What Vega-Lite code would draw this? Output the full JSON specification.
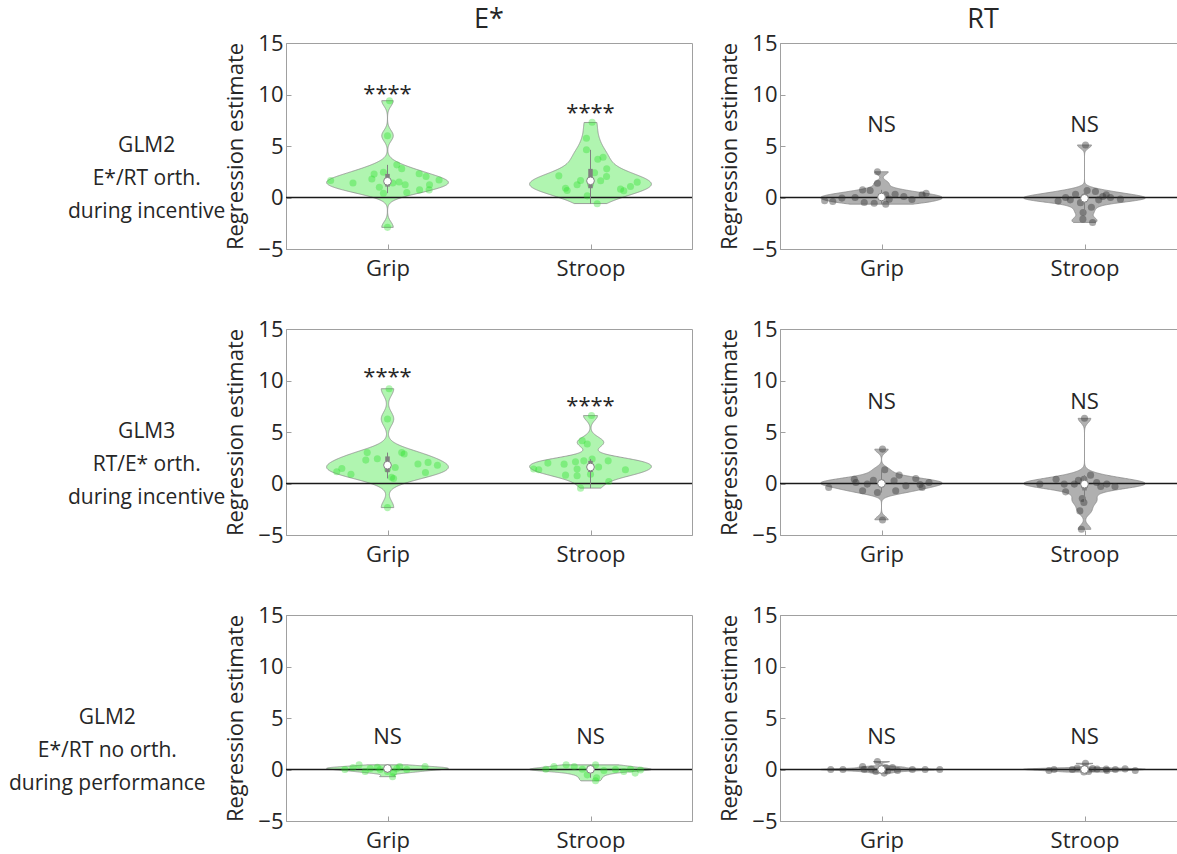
{
"$schema": "https://vega.github.io/schema/vega-lite/v6.json",
"background": "white",
"padding": {"left": 8, "top": 6, "right": 0, "bottom": 0},
"data": {"values": [
{"t":"p","g":"R1","c":"E*","k":"Grip","v":9.4,"j":0.01},
{"t":"p","g":"R1","c":"E*","k":"Grip","v":6.0,"j":0.0},
{"t":"p","g":"R1","c":"E*","k":"Grip","v":-2.9,"j":0.0},
{"t":"p","g":"R1","c":"E*","k":"Grip","v":1.65,"j":-0.28},
{"t":"p","g":"R1","c":"E*","k":"Grip","v":1.4,"j":-0.17},
{"t":"p","g":"R1","c":"E*","k":"Grip","v":2.27,"j":-0.066},
{"t":"p","g":"R1","c":"E*","k":"Grip","v":1.8,"j":-0.077},
{"t":"p","g":"R1","c":"E*","k":"Grip","v":2.45,"j":-0.02},
{"t":"p","g":"R1","c":"E*","k":"Grip","v":3.17,"j":0.046},
{"t":"p","g":"R1","c":"E*","k":"Grip","v":2.8,"j":0.07},
{"t":"p","g":"R1","c":"E*","k":"Grip","v":1.5,"j":0.057},
{"t":"p","g":"R1","c":"E*","k":"Grip","v":1.23,"j":0.087},
{"t":"p","g":"R1","c":"E*","k":"Grip","v":0.49,"j":0.095},
{"t":"p","g":"R1","c":"E*","k":"Grip","v":2.3,"j":0.156},
{"t":"p","g":"R1","c":"E*","k":"Grip","v":2.04,"j":0.19},
{"t":"p","g":"R1","c":"E*","k":"Grip","v":1.23,"j":0.207},
{"t":"p","g":"R1","c":"E*","k":"Grip","v":0.74,"j":0.205},
{"t":"p","g":"R1","c":"E*","k":"Grip","v":0.74,"j":0.158},
{"t":"p","g":"R1","c":"E*","k":"Grip","v":1.7,"j":0.254},
{"t":"p","g":"R1","c":"E*","k":"Grip","v":0.42,"j":-0.02},
{"t":"p","g":"R1","c":"E*","k":"Grip","v":1.4,"j":0.026},
{"t":"p","g":"R1","c":"E*","k":"Grip","v":1.0,"j":-0.04},
{"t":"p","g":"R1","c":"E*","k":"Stroop","v":7.3,"j":0.008},
{"t":"p","g":"R1","c":"E*","k":"Stroop","v":5.76,"j":-0.02},
{"t":"p","g":"R1","c":"E*","k":"Stroop","v":4.63,"j":-0.02},
{"t":"p","g":"R1","c":"E*","k":"Stroop","v":3.72,"j":0.036},
{"t":"p","g":"R1","c":"E*","k":"Stroop","v":3.9,"j":0.062},
{"t":"p","g":"R1","c":"E*","k":"Stroop","v":2.78,"j":0.08},
{"t":"p","g":"R1","c":"E*","k":"Stroop","v":1.62,"j":0.05},
{"t":"p","g":"R1","c":"E*","k":"Stroop","v":2.04,"j":0.079},
{"t":"p","g":"R1","c":"E*","k":"Stroop","v":2.1,"j":-0.156},
{"t":"p","g":"R1","c":"E*","k":"Stroop","v":0.9,"j":-0.123},
{"t":"p","g":"R1","c":"E*","k":"Stroop","v":0.68,"j":-0.115},
{"t":"p","g":"R1","c":"E*","k":"Stroop","v":1.23,"j":-0.066},
{"t":"p","g":"R1","c":"E*","k":"Stroop","v":1.65,"j":-0.049},
{"t":"p","g":"R1","c":"E*","k":"Stroop","v":0.16,"j":-0.016},
{"t":"p","g":"R1","c":"E*","k":"Stroop","v":-0.6,"j":0.033},
{"t":"p","g":"R1","c":"E*","k":"Stroop","v":0.81,"j":0.148},
{"t":"p","g":"R1","c":"E*","k":"Stroop","v":0.65,"j":0.164},
{"t":"p","g":"R1","c":"E*","k":"Stroop","v":1.07,"j":0.197},
{"t":"p","g":"R1","c":"E*","k":"Stroop","v":1.49,"j":0.23},
{"t":"p","g":"R1","c":"E*","k":"Stroop","v":1.3,"j":0.0},
{"t":"p","g":"R1","c":"E*","k":"Stroop","v":2.4,"j":0.02},
{"t":"p","g":"R1","c":"RT","k":"Grip","v":2.5,"j":-0.02},
{"t":"p","g":"R1","c":"RT","k":"Grip","v":1.39,"j":-0.02},
{"t":"p","g":"R1","c":"RT","k":"Grip","v":0.74,"j":-0.093},
{"t":"p","g":"R1","c":"RT","k":"Grip","v":0.68,"j":-0.056},
{"t":"p","g":"R1","c":"RT","k":"Grip","v":0.26,"j":0.021},
{"t":"p","g":"R1","c":"RT","k":"Grip","v":0.32,"j":0.067},
{"t":"p","g":"R1","c":"RT","k":"Grip","v":-0.32,"j":-0.28},
{"t":"p","g":"R1","c":"RT","k":"Grip","v":-0.39,"j":-0.24},
{"t":"p","g":"R1","c":"RT","k":"Grip","v":-0.06,"j":-0.195},
{"t":"p","g":"R1","c":"RT","k":"Grip","v":-0.48,"j":-0.085},
{"t":"p","g":"R1","c":"RT","k":"Grip","v":-0.55,"j":-0.036},
{"t":"p","g":"R1","c":"RT","k":"Grip","v":-0.65,"j":0.021},
{"t":"p","g":"R1","c":"RT","k":"Grip","v":-0.16,"j":0.038},
{"t":"p","g":"R1","c":"RT","k":"Grip","v":0.26,"j":0.2},
{"t":"p","g":"R1","c":"RT","k":"Grip","v":0.42,"j":0.22},
{"t":"p","g":"R1","c":"RT","k":"Grip","v":0.0,"j":-0.13},
{"t":"p","g":"R1","c":"RT","k":"Grip","v":0.1,"j":0.11},
{"t":"p","g":"R1","c":"RT","k":"Grip","v":-0.2,"j":0.15},
{"t":"p","g":"R1","c":"RT","k":"Grip","v":0.05,"j":0.0},
{"t":"p","g":"R1","c":"RT","k":"Stroop","v":5.1,"j":0.005},
{"t":"p","g":"R1","c":"RT","k":"Stroop","v":-1.45,"j":-0.007},
{"t":"p","g":"R1","c":"RT","k":"Stroop","v":-2.1,"j":-0.008},
{"t":"p","g":"R1","c":"RT","k":"Stroop","v":-2.42,"j":0.04},
{"t":"p","g":"R1","c":"RT","k":"Stroop","v":-0.94,"j":0.034},
{"t":"p","g":"R1","c":"RT","k":"Stroop","v":0.68,"j":0.013},
{"t":"p","g":"R1","c":"RT","k":"Stroop","v":0.32,"j":-0.044},
{"t":"p","g":"R1","c":"RT","k":"Stroop","v":0.0,"j":-0.093},
{"t":"p","g":"R1","c":"RT","k":"Stroop","v":-0.35,"j":-0.13},
{"t":"p","g":"R1","c":"RT","k":"Stroop","v":0.58,"j":0.054},
{"t":"p","g":"R1","c":"RT","k":"Stroop","v":-0.23,"j":0.07},
{"t":"p","g":"R1","c":"RT","k":"Stroop","v":0.26,"j":0.107},
{"t":"p","g":"R1","c":"RT","k":"Stroop","v":0.0,"j":0.128},
{"t":"p","g":"R1","c":"RT","k":"Stroop","v":-0.16,"j":0.177},
{"t":"p","g":"R1","c":"RT","k":"Stroop","v":-0.23,"j":-0.07},
{"t":"p","g":"R1","c":"RT","k":"Stroop","v":0.1,"j":0.09},
{"t":"p","g":"R1","c":"RT","k":"Stroop","v":-0.5,"j":-0.02},
{"t":"p","g":"R1","c":"RT","k":"Stroop","v":0.05,"j":0.0},
{"t":"p","g":"R2","c":"E*","k":"Grip","v":9.2,"j":0.008},
{"t":"p","g":"R2","c":"E*","k":"Grip","v":6.27,"j":0.0},
{"t":"p","g":"R2","c":"E*","k":"Grip","v":-2.34,"j":0.0},
{"t":"p","g":"R2","c":"E*","k":"Grip","v":1.14,"j":-0.25},
{"t":"p","g":"R2","c":"E*","k":"Grip","v":1.46,"j":-0.225},
{"t":"p","g":"R2","c":"E*","k":"Grip","v":0.9,"j":-0.18},
{"t":"p","g":"R2","c":"E*","k":"Grip","v":2.27,"j":-0.107},
{"t":"p","g":"R2","c":"E*","k":"Grip","v":3.0,"j":-0.1},
{"t":"p","g":"R2","c":"E*","k":"Grip","v":0.49,"j":0.03},
{"t":"p","g":"R2","c":"E*","k":"Grip","v":1.56,"j":0.038},
{"t":"p","g":"R2","c":"E*","k":"Grip","v":3.0,"j":0.07},
{"t":"p","g":"R2","c":"E*","k":"Grip","v":2.86,"j":0.082},
{"t":"p","g":"R2","c":"E*","k":"Grip","v":1.07,"j":0.187},
{"t":"p","g":"R2","c":"E*","k":"Grip","v":2.05,"j":0.2},
{"t":"p","g":"R2","c":"E*","k":"Grip","v":1.78,"j":0.246},
{"t":"p","g":"R2","c":"E*","k":"Grip","v":1.4,"j":0.0},
{"t":"p","g":"R2","c":"E*","k":"Grip","v":0.6,"j":0.02},
{"t":"p","g":"R2","c":"E*","k":"Grip","v":1.9,"j":0.15},
{"t":"p","g":"R2","c":"E*","k":"Grip","v":2.4,"j":-0.05},
{"t":"p","g":"R2","c":"E*","k":"Stroop","v":6.6,"j":0.005},
{"t":"p","g":"R2","c":"E*","k":"Stroop","v":4.16,"j":-0.041},
{"t":"p","g":"R2","c":"E*","k":"Stroop","v":3.83,"j":-0.016},
{"t":"p","g":"R2","c":"E*","k":"Stroop","v":2.2,"j":-0.033},
{"t":"p","g":"R2","c":"E*","k":"Stroop","v":2.1,"j":-0.074},
{"t":"p","g":"R2","c":"E*","k":"Stroop","v":1.88,"j":-0.13},
{"t":"p","g":"R2","c":"E*","k":"Stroop","v":0.81,"j":-0.123},
{"t":"p","g":"R2","c":"E*","k":"Stroop","v":1.4,"j":-0.066},
{"t":"p","g":"R2","c":"E*","k":"Stroop","v":0.75,"j":-0.066},
{"t":"p","g":"R2","c":"E*","k":"Stroop","v":-0.45,"j":-0.049},
{"t":"p","g":"R2","c":"E*","k":"Stroop","v":1.4,"j":-0.28},
{"t":"p","g":"R2","c":"E*","k":"Stroop","v":1.33,"j":-0.255},
{"t":"p","g":"R2","c":"E*","k":"Stroop","v":1.98,"j":-0.21},
{"t":"p","g":"R2","c":"E*","k":"Stroop","v":2.37,"j":0.008},
{"t":"p","g":"R2","c":"E*","k":"Stroop","v":2.2,"j":0.087},
{"t":"p","g":"R2","c":"E*","k":"Stroop","v":0.2,"j":0.09},
{"t":"p","g":"R2","c":"E*","k":"Stroop","v":1.33,"j":0.172},
{"t":"p","g":"R2","c":"E*","k":"Stroop","v":0.9,"j":0.0},
{"t":"p","g":"R2","c":"E*","k":"Stroop","v":1.6,"j":0.04},
{"t":"p","g":"R2","c":"RT","k":"Grip","v":3.34,"j":0.005},
{"t":"p","g":"R2","c":"RT","k":"Grip","v":-3.54,"j":0.005},
{"t":"p","g":"R2","c":"RT","k":"Grip","v":1.33,"j":0.016},
{"t":"p","g":"R2","c":"RT","k":"Grip","v":0.81,"j":0.087},
{"t":"p","g":"R2","c":"RT","k":"Grip","v":-0.39,"j":-0.26},
{"t":"p","g":"R2","c":"RT","k":"Grip","v":0.42,"j":-0.134},
{"t":"p","g":"R2","c":"RT","k":"Grip","v":0.1,"j":-0.126},
{"t":"p","g":"R2","c":"RT","k":"Grip","v":-0.71,"j":-0.093},
{"t":"p","g":"R2","c":"RT","k":"Grip","v":-0.06,"j":-0.07},
{"t":"p","g":"R2","c":"RT","k":"Grip","v":-0.88,"j":-0.02},
{"t":"p","g":"R2","c":"RT","k":"Grip","v":0.26,"j":0.062},
{"t":"p","g":"R2","c":"RT","k":"Grip","v":-0.71,"j":0.07},
{"t":"p","g":"R2","c":"RT","k":"Grip","v":-0.23,"j":0.12},
{"t":"p","g":"R2","c":"RT","k":"Grip","v":0.49,"j":0.169},
{"t":"p","g":"R2","c":"RT","k":"Grip","v":-0.39,"j":0.2},
{"t":"p","g":"R2","c":"RT","k":"Grip","v":0.1,"j":0.234},
{"t":"p","g":"R2","c":"RT","k":"Grip","v":0.0,"j":0.0},
{"t":"p","g":"R2","c":"RT","k":"Grip","v":-0.1,"j":0.19},
{"t":"p","g":"R2","c":"RT","k":"Grip","v":0.3,"j":-0.04},
{"t":"p","g":"R2","c":"RT","k":"Stroop","v":6.33,"j":0.0},
{"t":"p","g":"R2","c":"RT","k":"Stroop","v":-4.45,"j":-0.015},
{"t":"p","g":"R2","c":"RT","k":"Stroop","v":-2.66,"j":-0.023},
{"t":"p","g":"R2","c":"RT","k":"Stroop","v":-1.46,"j":-0.011},
{"t":"p","g":"R2","c":"RT","k":"Stroop","v":-1.85,"j":-0.003},
{"t":"p","g":"R2","c":"RT","k":"Stroop","v":0.81,"j":0.03},
{"t":"p","g":"R2","c":"RT","k":"Stroop","v":0.42,"j":-0.003},
{"t":"p","g":"R2","c":"RT","k":"Stroop","v":-0.81,"j":-0.093},
{"t":"p","g":"R2","c":"RT","k":"Stroop","v":-0.06,"j":-0.1},
{"t":"p","g":"R2","c":"RT","k":"Stroop","v":0.42,"j":-0.14},
{"t":"p","g":"R2","c":"RT","k":"Stroop","v":-0.06,"j":-0.22},
{"t":"p","g":"R2","c":"RT","k":"Stroop","v":-0.06,"j":-0.05},
{"t":"p","g":"R2","c":"RT","k":"Stroop","v":-0.29,"j":0.08},
{"t":"p","g":"R2","c":"RT","k":"Stroop","v":-0.06,"j":0.11},
{"t":"p","g":"R2","c":"RT","k":"Stroop","v":-0.29,"j":0.15},
{"t":"p","g":"R2","c":"RT","k":"Stroop","v":0.1,"j":0.06},
{"t":"p","g":"R2","c":"RT","k":"Stroop","v":-0.2,"j":0.0},
{"t":"p","g":"R2","c":"RT","k":"Stroop","v":0.3,"j":-0.03},
{"t":"p","g":"R3","c":"E*","k":"Grip","v":0.0,"j":-0.21},
{"t":"p","g":"R3","c":"E*","k":"Grip","v":0.45,"j":-0.14},
{"t":"p","g":"R3","c":"E*","k":"Grip","v":-0.2,"j":-0.11},
{"t":"p","g":"R3","c":"E*","k":"Grip","v":0.22,"j":-0.05},
{"t":"p","g":"R3","c":"E*","k":"Grip","v":0.0,"j":-0.036},
{"t":"p","g":"R3","c":"E*","k":"Grip","v":0.1,"j":0.005},
{"t":"p","g":"R3","c":"E*","k":"Grip","v":-0.7,"j":0.025},
{"t":"p","g":"R3","c":"E*","k":"Grip","v":0.1,"j":0.046},
{"t":"p","g":"R3","c":"E*","k":"Grip","v":0.29,"j":0.06},
{"t":"p","g":"R3","c":"E*","k":"Grip","v":0.29,"j":0.185},
{"t":"p","g":"R3","c":"E*","k":"Grip","v":-0.2,"j":0.0},
{"t":"p","g":"R3","c":"E*","k":"Grip","v":0.1,"j":-0.085},
{"t":"p","g":"R3","c":"E*","k":"Grip","v":0.0,"j":0.095},
{"t":"p","g":"R3","c":"E*","k":"Grip","v":-0.3,"j":0.03},
{"t":"p","g":"R3","c":"E*","k":"Grip","v":0.2,"j":-0.17},
{"t":"p","g":"R3","c":"E*","k":"Stroop","v":0.03,"j":-0.22},
{"t":"p","g":"R3","c":"E*","k":"Stroop","v":0.29,"j":-0.18},
{"t":"p","g":"R3","c":"E*","k":"Stroop","v":0.45,"j":-0.12},
{"t":"p","g":"R3","c":"E*","k":"Stroop","v":0.29,"j":-0.08},
{"t":"p","g":"R3","c":"E*","k":"Stroop","v":0.03,"j":-0.04},
{"t":"p","g":"R3","c":"E*","k":"Stroop","v":-0.52,"j":-0.016},
{"t":"p","g":"R3","c":"E*","k":"Stroop","v":-1.1,"j":0.025},
{"t":"p","g":"R3","c":"E*","k":"Stroop","v":0.45,"j":0.025},
{"t":"p","g":"R3","c":"E*","k":"Stroop","v":-0.1,"j":0.066},
{"t":"p","g":"R3","c":"E*","k":"Stroop","v":0.0,"j":0.123},
{"t":"p","g":"R3","c":"E*","k":"Stroop","v":-0.2,"j":0.164},
{"t":"p","g":"R3","c":"E*","k":"Stroop","v":-0.35,"j":0.22},
{"t":"p","g":"R3","c":"E*","k":"Stroop","v":0.03,"j":0.197},
{"t":"p","g":"R3","c":"E*","k":"Stroop","v":-0.05,"j":0.246},
{"t":"p","g":"R3","c":"E*","k":"Stroop","v":-0.8,"j":0.03},
{"t":"p","g":"R3","c":"E*","k":"Stroop","v":0.1,"j":0.0},
{"t":"p","g":"R3","c":"RT","k":"Grip","v":0.0,"j":-0.25},
{"t":"p","g":"R3","c":"RT","k":"Grip","v":0.0,"j":-0.19},
{"t":"p","g":"R3","c":"RT","k":"Grip","v":0.29,"j":-0.093},
{"t":"p","g":"R3","c":"RT","k":"Grip","v":0.0,"j":-0.085},
{"t":"p","g":"R3","c":"RT","k":"Grip","v":0.77,"j":-0.02},
{"t":"p","g":"R3","c":"RT","k":"Grip","v":-0.2,"j":-0.028},
{"t":"p","g":"R3","c":"RT","k":"Grip","v":-0.35,"j":0.013},
{"t":"p","g":"R3","c":"RT","k":"Grip","v":0.2,"j":0.054},
{"t":"p","g":"R3","c":"RT","k":"Grip","v":-0.1,"j":0.079},
{"t":"p","g":"R3","c":"RT","k":"Grip","v":0.0,"j":0.152},
{"t":"p","g":"R3","c":"RT","k":"Grip","v":0.0,"j":0.215},
{"t":"p","g":"R3","c":"RT","k":"Grip","v":0.0,"j":0.287},
{"t":"p","g":"R3","c":"RT","k":"Grip","v":0.05,"j":-0.05},
{"t":"p","g":"R3","c":"RT","k":"Grip","v":0.2,"j":0.021},
{"t":"p","g":"R3","c":"RT","k":"Grip","v":-0.15,"j":0.03},
{"t":"p","g":"R3","c":"RT","k":"Stroop","v":-0.1,"j":-0.175},
{"t":"p","g":"R3","c":"RT","k":"Stroop","v":0.0,"j":-0.15},
{"t":"p","g":"R3","c":"RT","k":"Stroop","v":0.0,"j":-0.06},
{"t":"p","g":"R3","c":"RT","k":"Stroop","v":0.15,"j":-0.036},
{"t":"p","g":"R3","c":"RT","k":"Stroop","v":0.6,"j":0.005},
{"t":"p","g":"R3","c":"RT","k":"Stroop","v":-0.25,"j":-0.003},
{"t":"p","g":"R3","c":"RT","k":"Stroop","v":0.05,"j":0.062},
{"t":"p","g":"R3","c":"RT","k":"Stroop","v":-0.1,"j":0.11},
{"t":"p","g":"R3","c":"RT","k":"Stroop","v":0.0,"j":0.152},
{"t":"p","g":"R3","c":"RT","k":"Stroop","v":0.06,"j":0.2},
{"t":"p","g":"R3","c":"RT","k":"Stroop","v":-0.1,"j":0.25},
{"t":"p","g":"R3","c":"RT","k":"Stroop","v":0.05,"j":0.107},
{"t":"p","g":"R3","c":"RT","k":"Stroop","v":-0.2,"j":0.02},
{"t":"p","g":"R3","c":"RT","k":"Stroop","v":0.1,"j":0.04},
{"t":"s","g":"R1","c":"E*","k":"Grip","lab":"****","ty":10.07},
{"t":"s","g":"R1","c":"E*","k":"Stroop","lab":"****","ty":8.17},
{"t":"s","g":"R1","c":"RT","k":"Grip","lab":"NS","ty":7.0},
{"t":"s","g":"R1","c":"RT","k":"Stroop","lab":"NS","ty":7.0},
{"t":"s","g":"R2","c":"E*","k":"Grip","lab":"****","ty":10.37},
{"t":"s","g":"R2","c":"E*","k":"Stroop","lab":"****","ty":7.57},
{"t":"s","g":"R2","c":"RT","k":"Grip","lab":"NS","ty":7.9},
{"t":"s","g":"R2","c":"RT","k":"Stroop","lab":"NS","ty":7.9},
{"t":"s","g":"R3","c":"E*","k":"Grip","lab":"NS","ty":3.2},
{"t":"s","g":"R3","c":"E*","k":"Stroop","lab":"NS","ty":3.2},
{"t":"s","g":"R3","c":"RT","k":"Grip","lab":"NS","ty":3.2},
{"t":"s","g":"R3","c":"RT","k":"Stroop","lab":"NS","ty":3.2}
]},
"facet": {
  "row": {"field": "g", "type": "nominal", "sort": ["R1", "R2", "R3"],
    "header": {"title": null, "labelAngle": 0, "labelAlign": "center", "labelBaseline": "middle",
      "labelExpr": "datum.value=='R1' ? ['GLM2','E*/RT orth.','   during incentive   '] : datum.value=='R2' ? ['GLM3','RT/E* orth.','   during incentive   '] : ['GLM2','E*/RT no orth.','during performance']",
      "labelFont": "Open Sans", "labelFontSize": 21, "labelLineHeight": 33, "labelColor": "#262626", "labelPadding": -80}},
  "column": {"field": "c", "type": "nominal", "sort": ["E*", "RT"],
    "header": {"title": null, "labelFont": "Open Sans", "labelFontSize": 27, "labelColor": "#262626", "labelPadding": -3}}
},
"spacing": {"row": 37, "column": 24},
"resolve": {"axis": {"x": "independent", "y": "independent"}},
"spec": {
  "width": 406,
  "height": 206,
  "layer": [
    {
      "transform": [
        {"filter": "datum.t=='p'"},
        {"joinaggregate": [{"op": "min", "field": "v", "as": "lo"}, {"op": "max", "field": "v", "as": "hi"}], "groupby": ["g", "c", "k"]},
        {"density": "v", "groupby": ["g", "c", "k", "lo", "hi"], "steps": 500, "as": ["vv", "dens"]},
        {"filter": "datum.vv >= datum.lo && datum.vv <= datum.hi"},
        {"joinaggregate": [{"op": "max", "field": "dens", "as": "mx"}], "groupby": ["g", "c", "k"]},
        {"calculate": "(datum.k=='Grip'?1:2) - 0.3*datum.dens/datum.mx", "as": "xl"},
        {"calculate": "(datum.k=='Grip'?1:2) + 0.3*datum.dens/datum.mx", "as": "xr"}
      ],
      "mark": {"type": "area", "orient": "horizontal", "stroke": "#8a8a8a", "strokeWidth": 0.8},
      "encoding": {
        "y": {"field": "vv", "type": "quantitative", "title": "Regression estimate", "scale": {"domain": [-5, 15], "nice": false, "zero": false}, "axis": {"values": [-5, 0, 5, 10, 15]}},
        "x": {"field": "xl", "type": "quantitative", "title": null, "scale": {"domain": [0.5, 2.5], "nice": false, "zero": false}, "axis": {"values": [1, 2], "labelExpr": "datum.value==1 ? 'Grip' : 'Stroop'"}},
        "x2": {"field": "xr"},
        "detail": {"field": "k"},
        "fill": {"condition": {"test": "datum.c=='E*'", "value": "#b0f5b0"}, "value": "#b0b0b0"}
      }
    },
    {
      "transform": [{"filter": "datum.t=='s' && datum.k=='Grip'"}],
      "mark": {"type": "rule", "color": "#1a1a1a", "strokeWidth": 1.5},
      "encoding": {"y": {"datum": 0, "type": "quantitative", "title": "Regression estimate"}}
    },
    {
      "transform": [
        {"filter": "datum.t=='p'"},
        {"calculate": "(datum.k=='Grip'?1:2) + datum.j", "as": "px"}
      ],
      "mark": {"type": "circle", "size": 50},
      "encoding": {
        "y": {"field": "v", "type": "quantitative", "title": "Regression estimate"},
        "x": {"field": "px", "type": "quantitative", "title": null},
        "color": {"condition": {"test": "datum.c=='E*'", "value": "#22e022"}, "value": "#333333"},
        "opacity": {"condition": {"test": "datum.c=='E*'", "value": 0.35}, "value": 0.42}
      }
    },
    {
      "transform": [
        {"filter": "datum.t=='p'"},
        {"joinaggregate": [{"op": "q1", "field": "v", "as": "q1"}, {"op": "q3", "field": "v", "as": "q3"}, {"op": "median", "field": "v", "as": "md"}], "groupby": ["g", "c", "k"]},
        {"filter": "datum.v >= datum.q1 - 1.5*(datum.q3-datum.q1) && datum.v <= datum.q3 + 1.5*(datum.q3-datum.q1)"},
        {"aggregate": [{"op": "min", "field": "v", "as": "lo"}, {"op": "max", "field": "v", "as": "hi"}, {"op": "min", "field": "q1", "as": "q1"}, {"op": "min", "field": "q3", "as": "q3"}, {"op": "min", "field": "md", "as": "md"}], "groupby": ["g", "c", "k"]},
        {"calculate": "datum.k=='Grip'?1:2", "as": "cx"}
      ],
      "layer": [
        {
          "mark": {"type": "rule", "color": "#808080", "strokeWidth": 1},
          "encoding": {
            "x": {"field": "cx", "type": "quantitative", "title": null},
            "y": {"field": "lo", "type": "quantitative", "title": "Regression estimate"},
            "y2": {"field": "hi"}
          }
        },
        {
          "mark": {"type": "rule", "color": "#808080", "strokeWidth": 4.5},
          "encoding": {
            "x": {"field": "cx", "type": "quantitative", "title": null},
            "y": {"field": "q1", "type": "quantitative", "title": "Regression estimate"},
            "y2": {"field": "q3"}
          }
        },
        {
          "mark": {"type": "point", "filled": true, "fill": "white", "stroke": "#808080", "strokeWidth": 1, "size": 60, "opacity": 1},
          "encoding": {
            "x": {"field": "cx", "type": "quantitative", "title": null},
            "y": {"field": "md", "type": "quantitative", "title": "Regression estimate"}
          }
        }
      ]
    },
    {
      "transform": [
        {"filter": "datum.t=='s'"},
        {"calculate": "datum.k=='Grip'?1:2", "as": "cx"}
      ],
      "mark": {"type": "text", "font": "Open Sans", "fontSize": 22, "color": "#262626", "baseline": "middle", "align": "center"},
      "encoding": {
        "x": {"field": "cx", "type": "quantitative", "title": null},
        "y": {"field": "ty", "type": "quantitative", "title": "Regression estimate"},
        "text": {"field": "lab"}
      }
    }
  ]
},
"config": {
  "font": "Open Sans",
  "view": {"stroke": "#a0a0a0", "strokeWidth": 1},
  "axisX": {"tickSize": -5, "labelPadding": 14, "labelFlush": false},
  "axisY": {"tickSize": -5, "labelPadding": 8, "titlePadding": 10, "labelFlush": false},
  "axis": {"grid": false, "labelFont": "Open Sans", "labelFontSize": 22, "labelColor": "#262626", "titleFont": "Open Sans", "titleFontSize": 22, "titleFontWeight": "normal", "titleColor": "#262626", "domainColor": "#a0a0a0", "tickColor": "#a0a0a0", "labelOverlap": false}
}
}
